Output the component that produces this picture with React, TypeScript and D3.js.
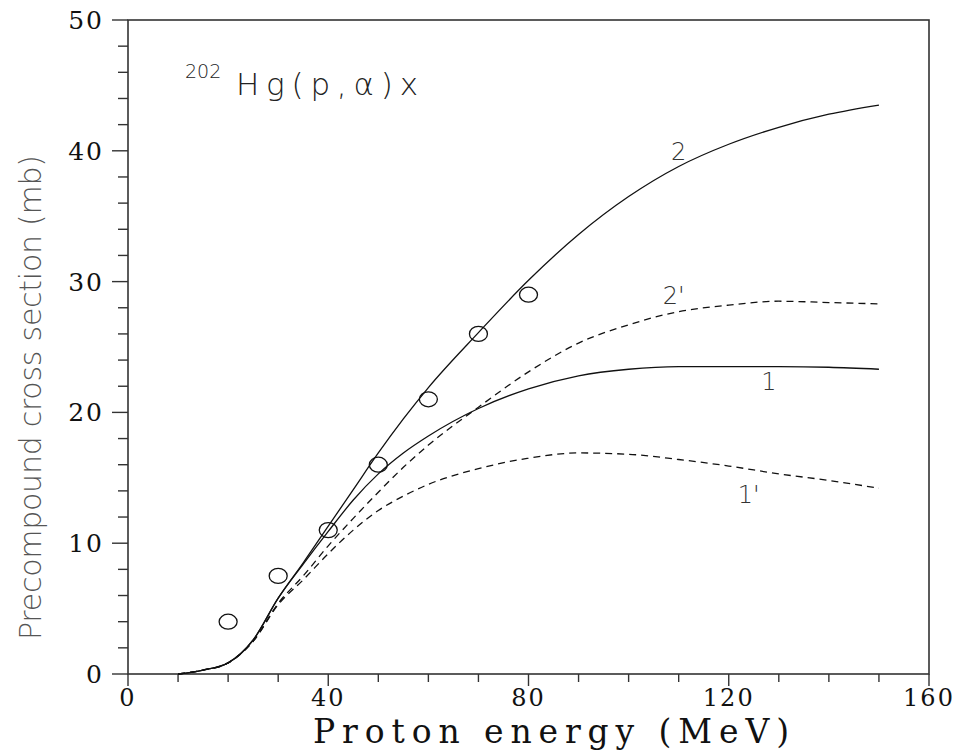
import React from "react";
import * as d3 from "d3";

const energies = [10, 15, 20, 25, 30, 35, 40, 45, 50, 55, 60, 70, 80, 90, 100, 110, 120, 130, 140, 150];
const curve2 = [0, 0.3, 0.85, 2.6, 5.8, 8.5, 11.3, 14.1, 16.9, 19.5, 21.9, 26.1, 30.1, 33.6, 36.5, 38.8, 40.5, 41.8, 42.8, 43.5];
const curve1 = [0, 0.3, 0.85, 2.6, 5.8, 8.4, 10.9, 13.3, 15.3, 16.9, 18.2, 20.3, 21.8, 22.8, 23.3, 23.5, 23.5, 23.5, 23.45, 23.3];
const curve2p = [0, 0.3, 0.85, 2.5, 5.4, 7.5, 9.8, 11.9, 13.9, 15.8, 17.5, 20.4, 23.1, 25.3, 26.7, 27.7, 28.2, 28.5, 28.4, 28.3];
const curve1p = [0, 0.3, 0.85, 2.5, 5.3, 7.2, 9.2, 11.0, 12.5, 13.6, 14.5, 15.7, 16.5, 16.9, 16.8, 16.4, 15.9, 15.3, 14.8, 14.2];

const expEnergy = [20, 30, 40, 50, 60, 70, 80];
const expValue = [4.0, 7.5, 11.0, 16.0, 21.0, 26.0, 29.0];

const xTicks = [0, 40, 80, 120, 160];
const yTicks = [0, 10, 20, 30, 40, 50];

const curveLabels = [
  { text: "2", x: 110, y: 39.3 },
  { text: "2'", x: 109, y: 28.3 },
  { text: "1", x: 128, y: 21.7 },
  { text: "1'", x: 124, y: 13.1 },
];

const M = { left: 128, right: 929, top: 20, bottom: 674 };

export default function App() {
  const x = d3.scaleLinear().domain([0, 160]).range([M.left, M.right]);
  const y = d3.scaleLinear().domain([0, 50]).range([M.bottom, M.top]);

  const line = d3
    .line<[number, number]>()
    .x((d) => x(d[0]))
    .y((d) => y(d[1]))
    .curve(d3.curveMonotoneX);

  const series = [
    { v: curve2, dash: null },
    { v: curve1, dash: null },
    { v: curve2p, dash: "7,5" },
    { v: curve1p, dash: "7,5" },
  ];

  const xMinor = d3.range(0, 161, 10);
  const yMinor = d3.range(0, 51, 2);

  const axisColor = "#333";
  const serif = "'DejaVu Serif', 'Liberation Serif', serif";
  const sans = "'DejaVu Sans', 'Noto Sans', sans-serif";

  return (
    <svg
      width={960}
      height={751}
      style={{ position: "absolute", left: 0, top: 0, background: "#fff" }}
    >
      <rect x={0} y={0} width={960} height={751} fill="#fff" />
      <rect
        x={M.left}
        y={M.top}
        width={M.right - M.left}
        height={M.bottom - M.top}
        fill="none"
        stroke={axisColor}
        strokeWidth={1.6}
      />
      {xMinor.map((t) => {
        const major = t % 40 === 0;
        return (
          <line
            key={"xt" + t}
            x1={x(t)}
            x2={x(t)}
            y1={M.bottom}
            y2={M.bottom + (major ? 12 : 8)}
            stroke={axisColor}
            strokeWidth={1.4}
          />
        );
      })}
      {xTicks.map((t) => (
        <text
          key={"xl" + t}
          x={x(t)}
          y={706}
          textAnchor="middle"
          fontFamily={serif}
          fontSize={24}
          letterSpacing={2}
          fill="#111"
        >
          {t}
        </text>
      ))}
      {yMinor.map((t) => {
        const major = t % 10 === 0;
        return (
          <line
            key={"yt" + t}
            x1={M.left - (major ? 16 : 10)}
            x2={M.left}
            y1={y(t)}
            y2={y(t)}
            stroke={axisColor}
            strokeWidth={1.4}
          />
        );
      })}
      {yTicks.map((t) => (
        <text
          key={"yl" + t}
          x={104}
          y={y(t) + 9}
          textAnchor="end"
          fontFamily={serif}
          fontSize={25}
          letterSpacing={2}
          fill="#111"
        >
          {t}
        </text>
      ))}
      <text
        x={313}
        y={743}
        fontFamily={serif}
        fontSize={33}
        textLength={476}
        lengthAdjust="spacing"
        fill="#111"
      >
        Proton energy (MeV)
      </text>
      <text
        transform="translate(41,640) rotate(-90)"
        fontFamily={sans}
        fontWeight={200}
        fontSize={30}
        textLength={485}
        lengthAdjust="spacing"
        fill="#555"
      >
        Precompound cross section (mb)
      </text>
      <text x={185} y={78} fontFamily={sans} fontWeight={200} fontSize={19} fill="#222">
        202
      </text>
      <text
        x={236}
        y={95}
        fontFamily={sans}
        fontWeight={200}
        fontSize={31}
        textLength={182}
        lengthAdjust="spacing"
        fill="#222"
      >
        Hg(p,α)x
      </text>
      {series.map((s, i) => (
        <path
          key={"c" + i}
          d={line(energies.map((e, j) => [e, s.v[j]] as [number, number])) || ""}
          fill="none"
          stroke="#111"
          strokeWidth={1.3}
          strokeDasharray={s.dash || undefined}
        />
      ))}
      {expEnergy.map((e, i) => (
        <ellipse
          key={"p" + i}
          cx={x(e)}
          cy={y(expValue[i])}
          rx={9}
          ry={7.5}
          fill="none"
          stroke="#111"
          strokeWidth={1.3}
        />
      ))}
      {curveLabels.map((l, i) => (
        <text
          key={"l" + i}
          x={x(l.x)}
          y={y(l.y)}
          textAnchor="middle"
          fontFamily={sans}
          fontWeight={200}
          fontSize={24}
          fill="#333"
        >
          {l.text}
        </text>
      ))}
    </svg>
  );
}
